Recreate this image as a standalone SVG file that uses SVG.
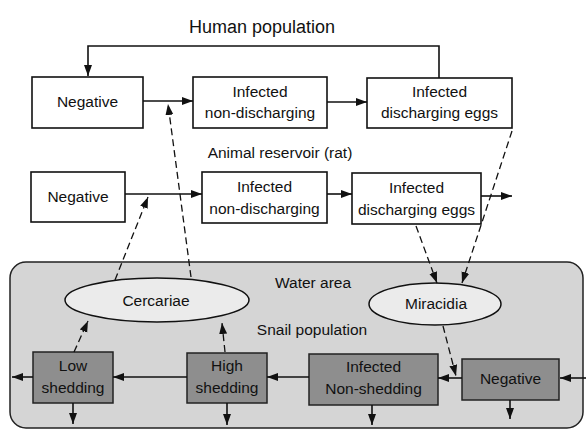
<svg xmlns="http://www.w3.org/2000/svg" width="586" height="430" viewBox="0 0 586 430">
<style>
text{font-family:"Liberation Sans",Arial,sans-serif;font-size:15.5px;fill:#111;text-anchor:middle}
.box{fill:#fff;stroke:#111;stroke-width:1.6}
.snail{fill:#8e8e8e;stroke:#222;stroke-width:1.5}
.ell{fill:#ebebeb;stroke:#111;stroke-width:1.5}
.ln{fill:none;stroke:#111;stroke-width:1.6}
.dash{fill:none;stroke:#111;stroke-width:1.3;stroke-dasharray:7 4}
</style>
<defs>
<marker id="ah" markerUnits="userSpaceOnUse" markerWidth="12" markerHeight="9" refX="11" refY="4" orient="auto">
<path d="M0,0 L11,4 L0,8 z" fill="#111"/>
</marker>
</defs>
<rect id="water" x="10" y="262" width="573" height="166" rx="16" fill="#d5d5d5" stroke="#222" stroke-width="1.5"/>
<text x="262" y="33" style="font-size:18px">Human population</text>
<text x="280" y="158">Animal reservoir (rat)</text>
<text x="313" y="288">Water area</text>
<text x="312" y="335">Snail population</text>
<g id="h_neg"><rect class="box" x="32" y="77" width="111" height="51"/><text x="87.5" y="107">Negative</text></g>
<g id="h_inf"><rect class="box" x="193" y="77" width="134" height="51"/><text x="260" y="97">Infected</text><text x="260" y="118">non-discharging</text></g>
<g id="h_dis"><rect class="box" x="367" y="78" width="145" height="50"/><text x="439.5" y="97">Infected</text><text x="439.5" y="118">discharging eggs</text></g>
<g id="a_neg"><rect class="box" x="31" y="172" width="94" height="50"/><text x="78" y="202">Negative</text></g>
<g id="a_inf"><rect class="box" x="202" y="172" width="125" height="51"/><text x="264.5" y="192">Infected</text><text x="264.5" y="214">non-discharging</text></g>
<g id="a_dis"><rect class="box" x="352" y="173" width="129" height="51"/><text x="416.5" y="193">Infected</text><text x="416.5" y="215">discharging eggs</text></g>
<g id="cercariae"><ellipse class="ell" cx="157" cy="300" rx="92" ry="22"/><text x="156" y="306">Cercariae</text></g>
<g id="miracidia"><ellipse class="ell" cx="435" cy="304" rx="66" ry="21"/><text x="436" y="309">Miracidia</text></g>
<g id="s_low"><rect class="snail" x="33" y="352" width="80" height="51"/><text x="73" y="371">Low</text><text x="73" y="393">shedding</text></g>
<g id="s_high"><rect class="snail" x="187" y="353" width="80" height="50"/><text x="227" y="371">High</text><text x="227" y="393">shedding</text></g>
<g id="s_inf"><rect class="snail" x="309" y="354" width="129" height="51"/><text x="373.5" y="372">Infected</text><text x="373.5" y="394">Non-shedding</text></g>
<g id="s_neg"><rect class="snail" x="462" y="359" width="97" height="41"/><text x="510.5" y="384">Negative</text></g>
<g id="connectors">
<path class="ln" d="M439,78 V46 H88 V76" marker-end="url(#ah)"/>
<path class="ln" d="M143,101 H193" marker-end="url(#ah)"/>
<path class="ln" d="M327,102 H367" marker-end="url(#ah)"/>
<path class="ln" d="M125,194 H202" marker-end="url(#ah)"/>
<path class="ln" d="M327,194 H352" marker-end="url(#ah)"/>
<path class="ln" d="M481,196 H512" marker-end="url(#ah)"/>
<path class="dash" d="M191,277 L168,104" marker-end="url(#ah)"/>
<path class="dash" d="M115,280 L148,197" marker-end="url(#ah)"/>
<path class="dash" d="M512,131 L462,283" marker-end="url(#ah)"/>
<path class="dash" d="M416,226 L437,283" marker-end="url(#ah)"/>
<path class="dash" d="M443,326 L456,376" marker-end="url(#ah)"/>
<path class="dash" d="M74,352 L88,321" marker-end="url(#ah)"/>
<path class="dash" d="M225,352 L222,323" marker-end="url(#ah)"/>
<path class="ln" d="M586,378 H560" marker-end="url(#ah)"/>
<path class="ln" d="M462,378 H438" marker-end="url(#ah)"/>
<path class="ln" d="M309,377 H267" marker-end="url(#ah)"/>
<path class="ln" d="M187,377 H113" marker-end="url(#ah)"/>
<path class="ln" d="M33,377 H12" marker-end="url(#ah)"/>
<path class="ln" d="M73,403 V424" marker-end="url(#ah)"/>
<path class="ln" d="M227,403 V425" marker-end="url(#ah)"/>
<path class="ln" d="M372,405 V425" marker-end="url(#ah)"/>
<path class="ln" d="M510,400 V419" marker-end="url(#ah)"/>
</g>
</svg>
